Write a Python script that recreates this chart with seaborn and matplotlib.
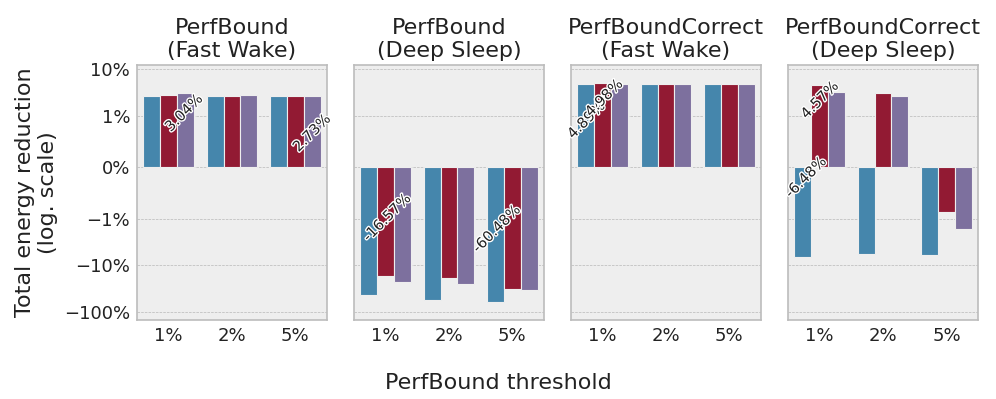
import numpy as np
import pandas as pd
import matplotlib
matplotlib.use("Agg")
import matplotlib.pyplot as plt
import matplotlib.ticker as mticker
import matplotlib.patheffects as pe
import seaborn as sns

# data (values in %)
thresholds = ["1%", "2%", "5%"]
series = ["s1", "s2", "s3"]
panel_titles = [
    "PerfBound\n(Fast Wake)",
    "PerfBound\n(Deep Sleep)",
    "PerfBoundCorrect\n(Fast Wake)",
    "PerfBoundCorrect\n(Deep Sleep)",
]
pb_fast = [[2.70, 2.70, 2.70], [2.85, 2.72, 2.72], [3.04, 2.82, 2.73]]
pb_deep = [[-43.5, -55.7, -60.48], [-16.57, -18.8, -31.6], [-23.0, -25.5, -33.2]]
pbc_fast = [[4.89, 4.90, 4.90], [4.98, 4.95, 4.95], [4.95, 4.93, 4.93]]
pbc_deep = [[-6.48, -5.6, -5.9], [4.57, 3.16, -0.86], [3.2, 2.64, -1.62]]
panel_values = [pb_fast, pb_deep, pbc_fast, pbc_deep]

# annotations: (label, x position, y position in data units)
annotations = [
    [("3.04%", 0.24, 1.16), ("2.73%", 2.26, 0.67)],
    [("-16.57%", 0.02, -0.97), ("-60.48%", 1.75, -1.62)],
    [("4.89%", -0.26, 0.92), ("4.98%", 0.02, 2.43)],
    [("4.57%", 0.0, 2.2), ("-6.48%", -0.22, -0.19)],
]

ytick_vals = [-100, -10, -1, 0, 1, 10]
palette = ["#348ABD", "#A60628", "#7A68A6"]

plt.style.use("bmh")
plt.rcParams["font.family"] = ["DejaVu Sans"]

fig, axes = plt.subplots(1, 4, figsize=(9.96, 3.99), dpi=100, sharey=True)
fig.subplots_adjust(left=0.1375, right=0.982, top=0.837, bottom=0.198, wspace=0.142)


def pct_fmt(x, pos):
    s = f"{abs(x):g}%"
    return "\u2212" + s if x < 0 else s


for ax, title, vals, notes in zip(axes, panel_titles, panel_values, annotations):
    rows = []
    for s, v in zip(series, vals):
        for t, y in zip(thresholds, v):
            rows.append({"threshold": t, "series": s, "value": y})
    df = pd.DataFrame(rows)
    sns.barplot(data=df, x="threshold", y="value", hue="series", order=thresholds,
                hue_order=series, palette=palette, edgecolor="#eeeeee",
                linewidth=0.8, legend=False, ax=ax)
    ax.set_yscale("symlog", linthresh=1, linscale=1)
    ax.set_ylim(-150, 12.4)
    ax.yaxis.set_major_locator(mticker.FixedLocator(ytick_vals))
    ax.yaxis.set_minor_locator(mticker.NullLocator())
    ax.yaxis.set_major_formatter(mticker.FuncFormatter(pct_fmt))
    ax.set_title(title, fontsize=16, color="#222222")
    ax.set_xlabel("")
    ax.set_ylabel("")
    ax.tick_params(labelsize=13, length=0, pad=5, labelcolor="#222222")
    ax.xaxis.grid(False)
    ax.yaxis.grid(True, linestyle="--", linewidth=0.5, color="#b8b8b8")
    ax.set_axisbelow(True)
    for sp in ax.spines.values():
        sp.set_linewidth(1.2)
        sp.set_color("#bcbcbc")
    for label, x, y in notes:
        ax.text(x, y, label, rotation=45, ha="center", va="center", fontsize=10.5,
                color="#222222",
                path_effects=[pe.withStroke(linewidth=2, foreground="white")])

axes[0].set_ylabel("Total energy reduction\n(log. scale)", fontsize=16, color="#222222")
fig.supxlabel("PerfBound threshold", y=0.04, va="center", fontsize=16, color="#222222")

fig.savefig("out.png", dpi=100)
